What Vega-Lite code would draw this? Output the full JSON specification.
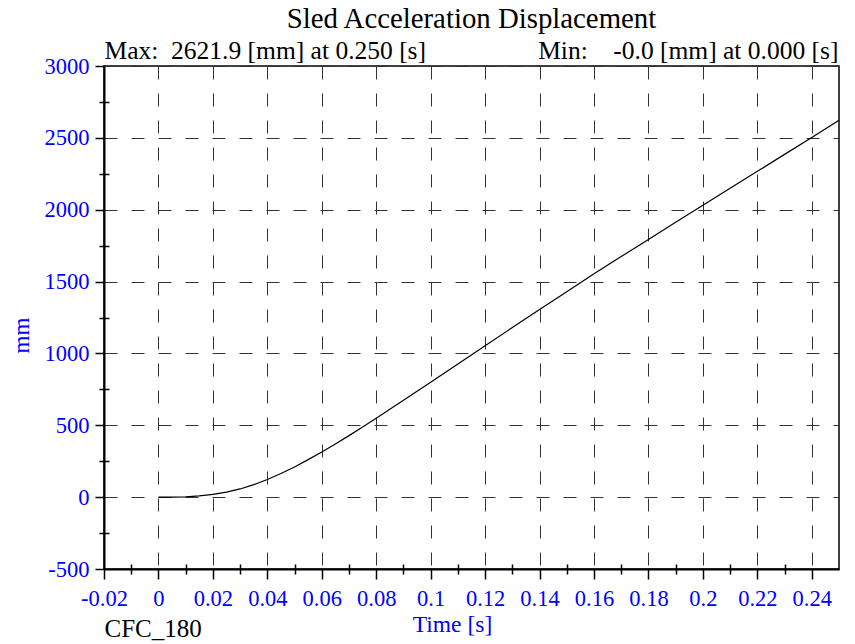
{
  "$schema": "https://vega.github.io/schema/vega-lite/v6.json",
  "width": 735,
  "height": 503,
  "autosize": {"type": "none"},
  "padding": {"left": 104, "top": 66, "right": 16, "bottom": 75},
  "background": "white",
  "config": {
    "view": {"stroke": "black", "strokeWidth": 1.5},
    "font": "Liberation Serif"
  },
  "title": {
    "text": "Sled Acceleration Displacement",
    "font": "Liberation Serif",
    "fontSize": 28.8,
    "fontWeight": "normal",
    "color": "black",
    "anchor": "middle",
    "offset": 4
  },
  "data": {
    "values": [
      {"t": 0, "mm": 0},
      {"t": 0.005, "mm": 0.3},
      {"t": 0.01, "mm": 2.5},
      {"t": 0.015, "mm": 8.5},
      {"t": 0.02, "mm": 19},
      {"t": 0.025, "mm": 35},
      {"t": 0.03, "mm": 57},
      {"t": 0.035, "mm": 87},
      {"t": 0.04, "mm": 123},
      {"t": 0.045, "mm": 164},
      {"t": 0.05, "mm": 210},
      {"t": 0.055, "mm": 261},
      {"t": 0.06, "mm": 314},
      {"t": 0.065, "mm": 370},
      {"t": 0.07, "mm": 428},
      {"t": 0.075, "mm": 488},
      {"t": 0.08, "mm": 549},
      {"t": 0.085, "mm": 611},
      {"t": 0.09, "mm": 674},
      {"t": 0.095, "mm": 737},
      {"t": 0.1, "mm": 800},
      {"t": 0.11, "mm": 927},
      {"t": 0.12, "mm": 1054},
      {"t": 0.13, "mm": 1180},
      {"t": 0.14, "mm": 1305},
      {"t": 0.15, "mm": 1430},
      {"t": 0.16, "mm": 1554},
      {"t": 0.17, "mm": 1674},
      {"t": 0.18, "mm": 1793},
      {"t": 0.19, "mm": 1912},
      {"t": 0.2, "mm": 2031},
      {"t": 0.21, "mm": 2149},
      {"t": 0.22, "mm": 2267},
      {"t": 0.23, "mm": 2385},
      {"t": 0.24, "mm": 2503},
      {"t": 0.25, "mm": 2621.9}
    ]
  },
  "resolve": {"axis": {"x": "independent", "y": "independent"}},
  "layer": [
    {
      "mark": {"type": "line", "color": "black", "strokeWidth": 1.2, "clip": true},
      "encoding": {
        "x": {
          "field": "t", "type": "quantitative",
          "scale": {"domain": [-0.02, 0.25], "nice": false, "zero": false},
          "axis": {
            "orient": "bottom",
            "values": [-0.02, 0, 0.02, 0.04, 0.06, 0.08, 0.1, 0.12, 0.14, 0.16, 0.18, 0.2, 0.22, 0.24],
            "labelExpr": "datum.value < 0 ? '-' + format(-datum.value, '~g') : format(datum.value, '~g')",
            "grid": true, "gridColor": "#333", "gridDash": [13, 14], "gridWidth": 1, "gridOpacity": 1,
            "domain": true, "domainColor": "black", "domainWidth": 2,
            "ticks": true, "tickColor": "black", "tickSize": 10, "tickWidth": 1.5,
            "labelColor": "#0000ff", "labelFont": "Liberation Serif", "labelFontSize": 22.5, "labelPadding": 8,
            "labelFlush": false, "labelOverlap": false,
            "title": "Time [s]", "titleColor": "#0000ff", "titleFont": "Liberation Serif", "titleFontSize": 23.5,
            "titleFontWeight": "normal", "titleBaseline": "alphabetic", "titleAlign": "center",
            "titleX": 348, "titleY": 62
          }
        },
        "y": {
          "field": "mm", "type": "quantitative",
          "scale": {"domain": [-500, 3000], "nice": false, "zero": false},
          "axis": {
            "orient": "left",
            "values": [-500, 0, 500, 1000, 1500, 2000, 2500, 3000],
            "labelExpr": "datum.value < 0 ? '-' + format(-datum.value, 'd') : format(datum.value, 'd')",
            "grid": true, "gridColor": "#333", "gridDash": [13, 14], "gridWidth": 1, "gridOpacity": 1,
            "domain": true, "domainColor": "black", "domainWidth": 2,
            "ticks": true, "tickColor": "black", "tickSize": 9, "tickWidth": 1.5,
            "labelColor": "#0000ff", "labelFont": "Liberation Serif", "labelFontSize": 22.5, "labelPadding": 6,
            "labelFlush": false, "labelOverlap": false,
            "title": "mm", "titleColor": "#0000ff", "titleFont": "Liberation Serif", "titleFontSize": 23,
            "titleFontWeight": "normal", "titleBaseline": "alphabetic", "titleAlign": "center",
            "titleAngle": -90, "titleX": -76, "titleY": 269
          }
        }
      }
    },
    {
      "mark": {"type": "line", "opacity": 0},
      "encoding": {
        "x": {
          "field": "t", "type": "quantitative",
          "scale": {"domain": [-0.02, 0.25], "nice": false, "zero": false},
          "axis": {
            "orient": "bottom", "offset": -5,
            "values": [-0.01, 0.01, 0.03, 0.05, 0.07, 0.09, 0.11, 0.13, 0.15, 0.17, 0.19, 0.21, 0.23],
            "grid": false, "domain": false, "labels": false, "title": null,
            "ticks": true, "tickColor": "black", "tickSize": 10, "tickWidth": 1.5
          }
        },
        "y": {
          "field": "mm", "type": "quantitative",
          "scale": {"domain": [-500, 3000], "nice": false, "zero": false},
          "axis": {
            "orient": "left", "offset": -5,
            "values": [-250, 250, 750, 1250, 1750, 2250, 2750],
            "grid": false, "domain": false, "labels": false, "title": null,
            "ticks": true, "tickColor": "black", "tickSize": 10, "tickWidth": 1.5
          }
        }
      }
    },
    {
      "mark": {"type": "line", "opacity": 0},
      "encoding": {
        "x": {
          "field": "t", "type": "quantitative",
          "scale": {"domain": [-0.02, 0.25], "nice": false, "zero": false},
          "axis": {
            "orient": "bottom",
            "grid": false, "domain": false, "labels": false, "ticks": false,
            "title": "CFC_180", "titleColor": "black", "titleFont": "Liberation Serif", "titleFontSize": 25,
            "titleFontWeight": "normal", "titleBaseline": "alphabetic", "titleAnchor": "start",
            "titleAlign": "left", "titleX": 0, "titleY": 67
          }
        },
        "y": {"field": "mm", "type": "quantitative", "axis": null}
      }
    },
    {
      "mark": {"type": "line", "opacity": 0},
      "encoding": {
        "x": {
          "field": "t", "type": "quantitative",
          "scale": {"domain": [-0.02, 0.25], "nice": false, "zero": false},
          "axis": {
            "orient": "top",
            "grid": false, "domain": false, "labels": false, "ticks": false,
            "title": "Max:\u00a0\u00a02621.9 [mm] at 0.250 [s]", "titleColor": "black", "titleFont": "Liberation Serif",
            "titleFontSize": 25.5, "titleFontWeight": "normal", "titleBaseline": "alphabetic",
            "titleAlign": "left", "titleX": 0, "titleY": -8
          }
        },
        "y": {"field": "mm", "type": "quantitative", "axis": null}
      }
    },
    {
      "mark": {"type": "line", "opacity": 0},
      "encoding": {
        "x": {
          "field": "t", "type": "quantitative",
          "scale": {"domain": [-0.02, 0.25], "nice": false, "zero": false},
          "axis": {
            "orient": "top",
            "grid": false, "domain": false, "labels": false, "ticks": false,
            "title": "Min:\u00a0\u00a0\u00a0\u00a0-0.0 [mm] at 0.000 [s]", "titleColor": "black", "titleFont": "Liberation Serif",
            "titleFontSize": 25.5, "titleFontWeight": "normal", "titleBaseline": "alphabetic",
            "titleAlign": "right", "titleX": 734, "titleY": -8
          }
        },
        "y": {"field": "mm", "type": "quantitative", "axis": null}
      }
    }
  ]
}
